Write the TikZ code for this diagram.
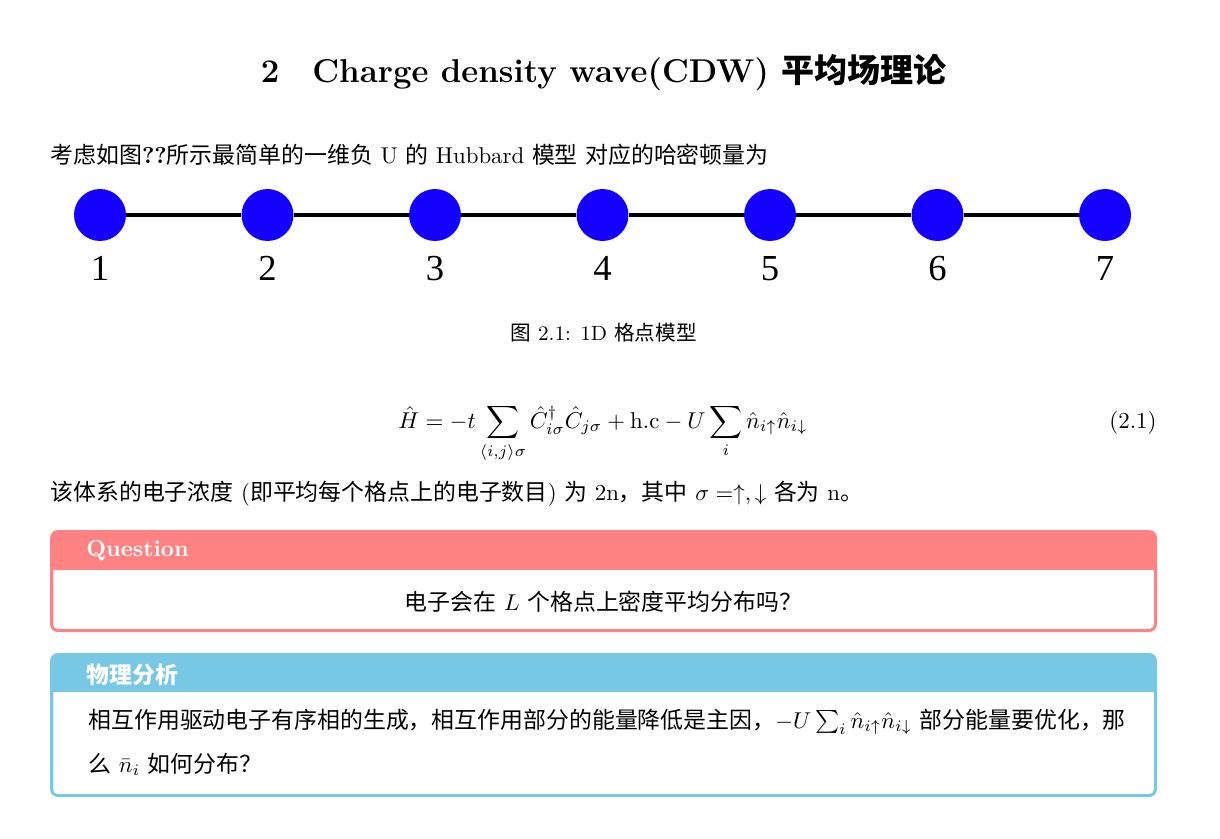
\documentclass[tikz,border=0pt]{standalone}
\usepackage{amsmath,amssymb}
\usepackage{fontspec}
\newfontfamily\cjk{Noto Sans CJK SC}
\newfontfamily\timesfont{Liberation Serif}
\newcommand{\zh}[1]{{\cjk #1}}
\definecolor{qred}{RGB}{255,130,130}
\definecolor{pblue}{RGB}{118,200,228}
\definecolor{siteblue}{RGB}{20,0,255}

\begin{document}
\begin{tikzpicture}[x=0.4368pt,y=-0.4368pt,
    txt/.style={anchor=base west,inner sep=0pt},
    ctxt/.style={anchor=base,inner sep=0pt},
    site/.style={circle,fill=siteblue,minimum size=22.7pt,inner sep=0pt},
    sitelabel/.style={anchor=base,inner sep=0pt,font=\timesfont\fontsize{16}{19}\selectfont},
    bond/.style={line width=1.75pt},
    boxtitle/.style={anchor=base west,inner sep=0pt,text=white,font=\bfseries}]
        \def\sitegap{167.5}
        \useasboundingbox (0,0) rectangle (1220,838);
        \fill[white] (0,0) rectangle (1220,838);

        % heading and first line
        \node[ctxt] (title) at (603.5,82) {\Large\bfseries 2\quad Charge density wave(CDW) {\cjk 平均场理论}};
        \node[txt] (intro) at (50,163) {\zh{考虑如图}\textbf{??}\zh{所示最简单的一维负} U \zh{的} Hubbard \zh{模型} \zh{对应的哈密顿量为}};

        % the 1D lattice
        \foreach \i in {1,...,7}{
            \node[site] (s\i) at ({100+(\i-1)*\sitegap},215) {};
            \node[sitelabel] (n\i) at ({100+(\i-1)*\sitegap},280) {\i};
        }
        \foreach \i [evaluate=\i as \j using int(\i+1)] in {1,...,6}
            \draw[bond] (s\i) -- (s\j);
        \node[ctxt,font=\small] (cap) at (603.5,340) {\zh{图} 2.1: 1D \zh{格点模型}};

        % hamiltonian
        \node[ctxt] (eq) at (603,428) {$\displaystyle \hat{H}=-t\sum_{\langle i,j\rangle\sigma}\hat{C}^{\dagger}_{i\sigma}\hat{C}_{j\sigma}+\mathrm{h.c}-U\sum_{i}\hat{n}_{i\uparrow}\hat{n}_{i\downarrow}$};
        \node[anchor=base east,inner sep=0pt] (eqno) at (1157,428) {(2.1)};
        \node[txt] (density) at (50,500) {\zh{该体系的电子浓度} (\zh{即平均每个格点上的电子数目}) \zh{为} 2n\zh{，其中} $\sigma=\uparrow,\downarrow$ \zh{各为} n\zh{。}};

        % question box
        \fill[qred,rounded corners=3.5pt] (50,530) rectangle (1157,632);
        \fill[white,rounded corners=1.8pt] (53.25,550) rectangle (1153.75,628.75);
        \fill[qred] (53.25,549) rectangle (1153.75,570);
        \node[boxtitle] (qtitle) at (86,556) {Question};
        \node[ctxt] (qtext) at (603.5,610) {\zh{电子会在} $L$ \zh{个格点上密度平均分布吗？}};

        % analysis box
        \fill[pblue,rounded corners=3.5pt] (50,653) rectangle (1157,797);
        \fill[white,rounded corners=1.8pt] (53.25,675) rectangle (1153.75,793.75);
        \fill[pblue] (53.25,674) rectangle (1153.75,692);
        \node[boxtitle] (ptitle) at (86,683) {\cjk\bfseries 物理分析};
        \node[txt] (pline1) at (88,728) {\zh{相互作用驱动电子有序相的生成，相互作用部分的能量降低是主因，}$-U\sum_{i}\hat{n}_{i\uparrow}\hat{n}_{i\downarrow}$ \zh{部分能量要优化，那}};
        \node[txt] (pline2) at (88,772) {\zh{么} $\bar{n}_i$ \zh{如何分布？}};
\end{tikzpicture}
\end{document}
